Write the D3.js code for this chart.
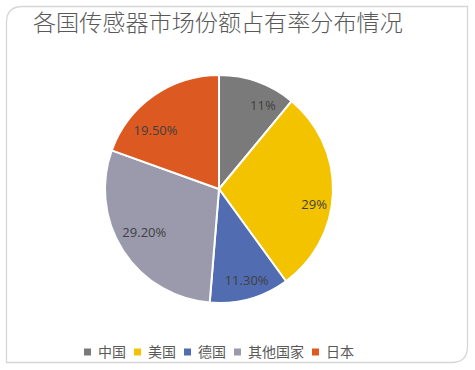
<!DOCTYPE html>
<html><head><meta charset="utf-8">
<script src="https://cdn.jsdelivr.net/npm/d3@7"></script>
<style>body{margin:0;background:#fff;}svg{display:block;}</style>
</head><body>
<svg id="c" width="475" height="370"></svg>
<script>
const categories = ["中国", "美国", "德国", "其他国家", "日本"];
const values = [11, 29, 11.3, 29.2, 19.5];
const labels = ["11%", "29%", "11.30%", "29.20%", "19.50%"];
const colors = ["#7a7a7a", "#f4c300", "#516cb0", "#9a9aac", "#dc5922"];
const title = "各国传感器市场份额占有率分布情况";

// layout-only label nudges (pixels), mimicking the spreadsheet's best-fit placement
const labelNudge = [[13, 2], [4, 13], [3, 4], [2, -6], [-11, 16]];

const svg = d3.select("#c");
const x0 = 6.5, y0 = 6.5, x1 = 467.5, y1 = 362.5, r = 16;
svg.append("path")
  .attr("d", `M${x0},${y0 + r} Q${x0},${y0} ${x0 + r},${y0} L${x1},${y0} L${x1},${y1 - r} Q${x1},${y1} ${x1 - r},${y1} L${x0},${y1} Z`)
  .attr("fill", "#fff").attr("stroke", "#d6d6d6").attr("stroke-width", 1.3);

const tt = svg.append("text").attr("x", 33).attr("y", 31)
  .attr("font-family", "'Noto Sans CJK SC', sans-serif").attr("font-weight", 300).attr("font-size", 22)
  .attr("fill", "#595959").text(title);
// fit title to width seen in the reference
const tw = tt.node().getComputedTextLength();
tt.attr("font-size", 22 * 370 / tw);

const cx = 219, cy = 189, R = 114;
const data = categories.map((c, i) => ({ name: c, value: values[i], label: labels[i], color: colors[i] }));
const pie = d3.pie().sort(null).value(d => d.value);
const arc = d3.arc().innerRadius(0).outerRadius(R);
const labelArc = d3.arc().innerRadius(R * 0.8).outerRadius(R * 0.8);
const g = svg.append("g").attr("transform", `translate(${cx},${cy})`);
const arcs = pie(data);
g.selectAll("path.slice").data(arcs).join("path").attr("class", "slice")
  .attr("d", arc).attr("fill", d => d.data.color)
  .attr("stroke", "#fff").attr("stroke-width", 2).attr("stroke-linejoin", "round");
g.selectAll("text.lbl").data(arcs).join("text").attr("class", "lbl")
  .attr("transform", (d, i) => {
    const c = labelArc.centroid(d);
    return `translate(${c[0] + labelNudge[i][0]},${c[1] + labelNudge[i][1]})`;
  })
  .attr("text-anchor", "middle").attr("dy", "0.35em")
  .attr("font-family", "'Open Sans', sans-serif").attr("font-size", 13)
  .attr("fill", "#404040").text(d => d.data.label);

const lg = svg.append("g").attr("transform", "translate(84,352)");
let x = 0;
data.forEach((d, i) => {
  lg.append("rect").attr("x", x).attr("y", -3.5).attr("width", 7).attr("height", 7).attr("fill", d.color);
  const t = lg.append("text").attr("x", x + 14).attr("y", 0).attr("dy", "0.36em")
    .attr("font-family", "'Noto Sans CJK SC', sans-serif").attr("font-size", 14)
    .attr("fill", "#595959").text(d.name);
  x += 14 + t.node().getComputedTextLength() + 8;
});
</script>
</body></html>
